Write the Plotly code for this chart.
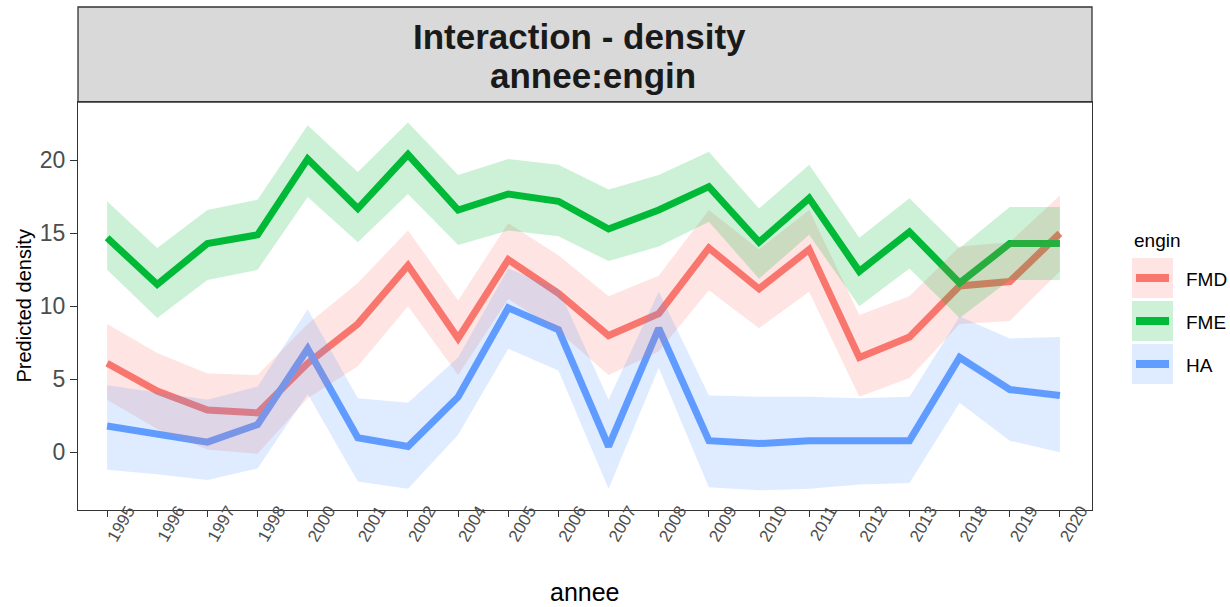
import plotly.graph_objects as go

# Predicted density by year (annee) and gear type (engin), with confidence band
annee = ['1995', '1996', '1997', '1998', '2000', '2001', '2002', '2004', '2005', '2006',
         '2007', '2008', '2009', '2010', '2011', '2012', '2013', '2018', '2019', '2020']

fmd_fit = [6.1, 4.2, 2.9, 2.7, 6.1, 8.8, 12.8, 7.8, 13.2, 10.9, 8.0, 9.5, 14.0, 11.2, 13.9, 6.5, 7.9, 11.4, 11.7, 15.0]
fmd_lo = [3.6, 1.6, 0.2, -0.1, 3.7, 5.9, 10.0, 5.3, 10.5, 8.3, 5.3, 6.9, 11.1, 8.5, 11.0, 3.8, 5.1, 8.8, 9.0, 12.4]
fmd_hi = [8.8, 6.8, 5.4, 5.3, 8.8, 11.6, 15.2, 10.4, 15.7, 13.5, 10.7, 12.1, 16.6, 13.9, 16.6, 9.4, 10.7, 14.1, 14.4, 17.6]

fme_fit = [14.7, 11.5, 14.3, 14.9, 20.1, 16.7, 20.4, 16.6, 17.7, 17.2, 15.3, 16.6, 18.2, 14.4, 17.4, 12.4, 15.1, 11.6, 14.3, 14.3]
fme_lo = [12.5, 9.2, 11.8, 12.5, 17.5, 14.4, 17.7, 14.2, 15.2, 14.8, 13.1, 14.1, 15.8, 11.9, 14.9, 10.0, 12.6, 9.2, 11.8, 11.8]
fme_hi = [17.2, 14.0, 16.6, 17.3, 22.4, 19.2, 22.6, 19.0, 20.1, 19.7, 18.0, 19.0, 20.6, 16.7, 19.7, 14.7, 17.4, 14.0, 16.8, 16.8]

ha_fit = [1.8, 1.3, 0.7, 1.9, 7.1, 1.0, 0.4, 3.8, 9.9, 8.4, 0.4, 8.5, 0.8, 0.6, 0.8, 0.8, 0.8, 6.5, 4.3, 3.9]
ha_lo = [-1.2, -1.5, -1.9, -1.1, 4.0, -2.0, -2.5, 1.2, 7.1, 5.6, -2.5, 5.8, -2.4, -2.6, -2.5, -2.2, -2.1, 3.4, 0.8, 0.0]
ha_hi = [4.6, 4.1, 3.6, 4.5, 9.8, 3.7, 3.4, 6.5, 12.6, 11.2, 3.6, 11.0, 3.9, 3.8, 3.8, 3.7, 3.8, 9.3, 7.8, 7.9]

groups = ['FMD', 'FME', 'HA']
fits = [fmd_fit, fme_fit, ha_fit]
lows = [fmd_lo, fme_lo, ha_lo]
highs = [fmd_hi, fme_hi, ha_hi]
line_colors = ['#F8766D', '#00BA38', '#619CFF']
band_colors = ['rgba(248,118,109,0.2)', 'rgba(0,186,56,0.2)', 'rgba(97,156,255,0.2)']

W, H = 1230, 607
L, R, T, B = 78, 1092, 102, 510
FONT = 'Liberation Sans, Arial, sans-serif'


def px(x):
    return (x - L) / (R - L)


def py(y):
    return (B - y) / (B - T)


fig = go.Figure()

# lines first, bands drawn on top of them
for name, fit, col in zip(groups, fits, line_colors):
    fig.add_trace(go.Scatter(x=annee, y=fit, mode='lines', name=name,
                             line=dict(color=col, width=7), showlegend=False,
                             hoverinfo='skip'))
for name, lo, hi, col in zip(groups, lows, highs, band_colors):
    fig.add_trace(go.Scatter(x=annee + annee[::-1], y=hi + lo[::-1], mode='lines',
                             fill='toself', fillcolor=col, line=dict(width=0),
                             showlegend=False, hoverinfo='skip'))

shapes = []
annotations = []

# strip header above the panel
shapes.append(dict(type='rect', xref='paper', yref='paper', x0=0, x1=1, y0=1, y1=py(7),
                   fillcolor='#D9D9D9', line=dict(color='#333333', width=1.3), layer='below'))
annotations.append(dict(text='<b>Interaction - density</b>', xref='paper', yref='paper',
                        x=px(579), y=py(36.5), xanchor='center', yanchor='middle', showarrow=False,
                        font=dict(family=FONT, size=35, color='#1A1A1A')))
annotations.append(dict(text='<b>annee:engin</b>', xref='paper', yref='paper',
                        x=px(592.5), y=py(75), xanchor='center', yanchor='middle', showarrow=False,
                        font=dict(family=FONT, size=35, color='#1A1A1A')))

# axis titles
annotations.append(dict(text='annee', xref='paper', yref='paper', x=px(585), y=py(592),
                        xanchor='center', yanchor='middle', showarrow=False,
                        font=dict(family=FONT, size=25, color='#000000')))
annotations.append(dict(text='Predicted density', xref='paper', yref='paper', x=px(23.5), y=py(306),
                        xanchor='center', yanchor='middle', showarrow=False, textangle=-90,
                        font=dict(family=FONT, size=20, color='#000000')))

# legend
annotations.append(dict(text='engin', xref='paper', yref='paper', x=px(1132), y=py(240),
                        xanchor='left', yanchor='middle', showarrow=False,
                        font=dict(family=FONT, size=19, color='#000000')))
for i, (name, lc, bc) in enumerate(zip(groups, line_colors, band_colors)):
    top = 258 + 43 * i
    shapes.append(dict(type='rect', xref='paper', yref='paper', x0=px(1132), x1=px(1173),
                       y0=py(top), y1=py(top + 40), fillcolor=bc, line=dict(width=0)))
    shapes.append(dict(type='line', xref='paper', yref='paper', x0=px(1136), x1=px(1169),
                       y0=py(top + 20), y1=py(top + 20), line=dict(color=lc, width=8)))
    annotations.append(dict(text=name, xref='paper', yref='paper', x=px(1184), y=py(top + 21),
                            xanchor='left', yanchor='middle', showarrow=False,
                            font=dict(family=FONT, size=19, color='#000000')))

fig.update_layout(
    width=W, height=H,
    margin=dict(l=L, r=W - R, t=T, b=H - B, pad=0),
    paper_bgcolor='white', plot_bgcolor='white',
    showlegend=False,
    shapes=shapes, annotations=annotations,
    font=dict(family=FONT),
    xaxis=dict(type='category', categoryorder='array', categoryarray=annee,
               range=[-0.58, 19.64], showgrid=False, zeroline=False,
               showline=True, mirror=True, linecolor='#333333', linewidth=1.3,
               ticks='outside', ticklen=6, tickwidth=1.2, tickcolor='#333333',
               tickangle=-60, ticklabelshift=21, ticklabelstandoff=-23,
               tickfont=dict(family=FONT, size=17, color='#4D4D4D')),
    yaxis=dict(range=[-3.95, 24.0], tickvals=[0, 5, 10, 15, 20], showgrid=False, zeroline=False,
               showline=True, mirror=True, linecolor='#333333', linewidth=1.3,
               ticks='outside', ticklen=7, tickwidth=1.2, tickcolor='#333333',
               tickfont=dict(family=FONT, size=23, color='#4D4D4D')),
)

fig.write_html('out.html')
